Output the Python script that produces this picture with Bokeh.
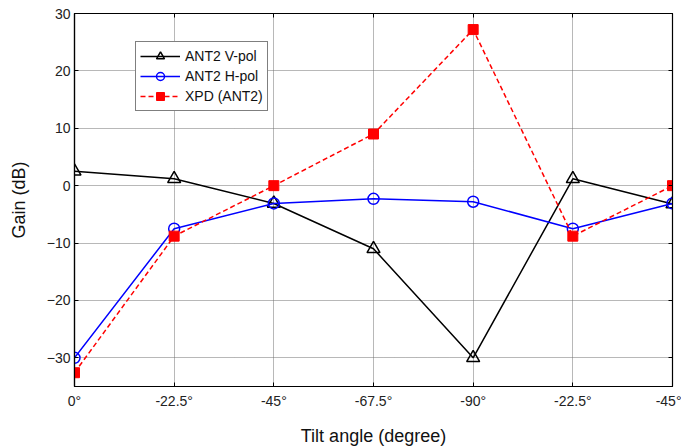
from bokeh.plotting import figure
from bokeh.models import Range1d, FixedTicker, LinearAxis, Legend, LegendItem
from bokeh.embed import file_html
from bokeh.resources import INLINE

tick_labels = ["0°", "-22.5°", "-45°", "-67.5°", "-90°", "-22.5°", "-45°"]
vpol = [2.5, 1.2, -3.1, -11.0, -30.0, 1.2, -3.2]
hpol = [-30.0, -7.5, -3.1, -2.3, -2.8, -7.5, -3.1]
xpd = [-32.6, -8.8, 0.0, 9.0, 27.2, -8.8, 0.0]
y_ticks = [-30, -20, -10, 0, 10, 20, 30]

xs = list(range(len(tick_labels)))
FONT = "Liberation Sans"

p = figure(width=681, height=448, output_backend="svg", toolbar_location=None,
           x_range=Range1d(0, len(xs) - 1), y_range=Range1d(-35, 30),
           min_border_left=74, min_border_right=9, min_border_top=13, min_border_bottom=61)
p.background_fill_color = "white"
p.border_fill_color = "white"
p.outline_line_color = "black"
p.outline_line_width = 1.2

for ax in (p.xaxis[0], p.yaxis[0]):
    ax.major_label_text_font = FONT
    ax.major_label_text_font_size = "14px"
    ax.major_label_text_color = "#222222"
    ax.axis_label_text_font = FONT
    ax.axis_label_text_font_size = "18px"
    ax.axis_label_text_font_style = "normal"
    ax.axis_label_text_color = "#111111"
    ax.major_tick_in = 4
    ax.major_tick_out = 0
    ax.minor_tick_line_color = None
    ax.axis_line_color = "black"
    ax.axis_line_width = 1.2

p.xaxis.ticker = FixedTicker(ticks=xs)
p.xaxis.major_label_overrides = {i: lab for i, lab in zip(xs, tick_labels)}
p.xaxis.axis_label = "Tilt angle (degree)"
p.xaxis.major_label_standoff = 6
p.xaxis.axis_label_standoff = 14
p.yaxis.ticker = FixedTicker(ticks=y_ticks)
p.yaxis.axis_label = "Gain (dB)"
p.yaxis.major_label_standoff = 4
p.yaxis.axis_label_standoff = 15

# mirrored ticks (no labels)
top = LinearAxis(ticker=FixedTicker(ticks=xs),
                 major_label_overrides={i: "" for i in xs},
                 major_tick_in=4, major_tick_out=0, minor_tick_line_color=None,
                 axis_line_color="black", major_label_standoff=0)
right = LinearAxis(ticker=FixedTicker(ticks=y_ticks),
                   major_label_overrides={t: "" for t in y_ticks},
                   major_tick_in=4, major_tick_out=0, minor_tick_line_color=None,
                   axis_line_color="black", major_label_standoff=0)
p.add_layout(top, "above")
p.add_layout(right, "right")

for g in (p.xgrid[0], p.ygrid[0]):
    g.grid_line_color = "#707070"
    g.grid_line_dash = "1 1"
    g.grid_line_width = 1
p.xgrid.ticker = FixedTicker(ticks=xs)
p.ygrid.ticker = FixedTicker(ticks=y_ticks)

l1 = p.line(xs, vpol, line_color="black", line_width=1.5)
m1 = p.scatter(xs, vpol, marker="triangle", size=13, line_color="black",
               fill_color=None, line_width=1.5)
l2 = p.line(xs, hpol, line_color="blue", line_width=1.5)
m2 = p.scatter(xs, hpol, marker="circle", size=11, line_color="blue",
               fill_color=None, line_width=1.5)
l3 = p.line(xs, xpd, line_color="red", line_width=1.5, line_dash="5 3")
m3 = p.scatter(xs, xpd, marker="square", size=10, line_color="red",
               fill_color="red")

legend = Legend(items=[
    LegendItem(label="ANT2 V-pol", renderers=[l1, m1]),
    LegendItem(label="ANT2 H-pol", renderers=[l2, m2]),
    LegendItem(label="XPD (ANT2)", renderers=[l3, m3]),
], location=(61, 275))
legend.label_text_font = FONT
legend.label_text_font_size = "14px"
legend.label_text_color = "#111111"
legend.glyph_width = 40
legend.glyph_height = 20
legend.label_height = 20
legend.spacing = 0
legend.padding = 4
legend.margin = 0
legend.label_standoff = 5
legend.border_line_color = "black"
legend.border_line_width = 1.2
legend.background_fill_alpha = 1
p.add_layout(legend, "center")

open("out.html", "w").write(file_html(p, INLINE))
